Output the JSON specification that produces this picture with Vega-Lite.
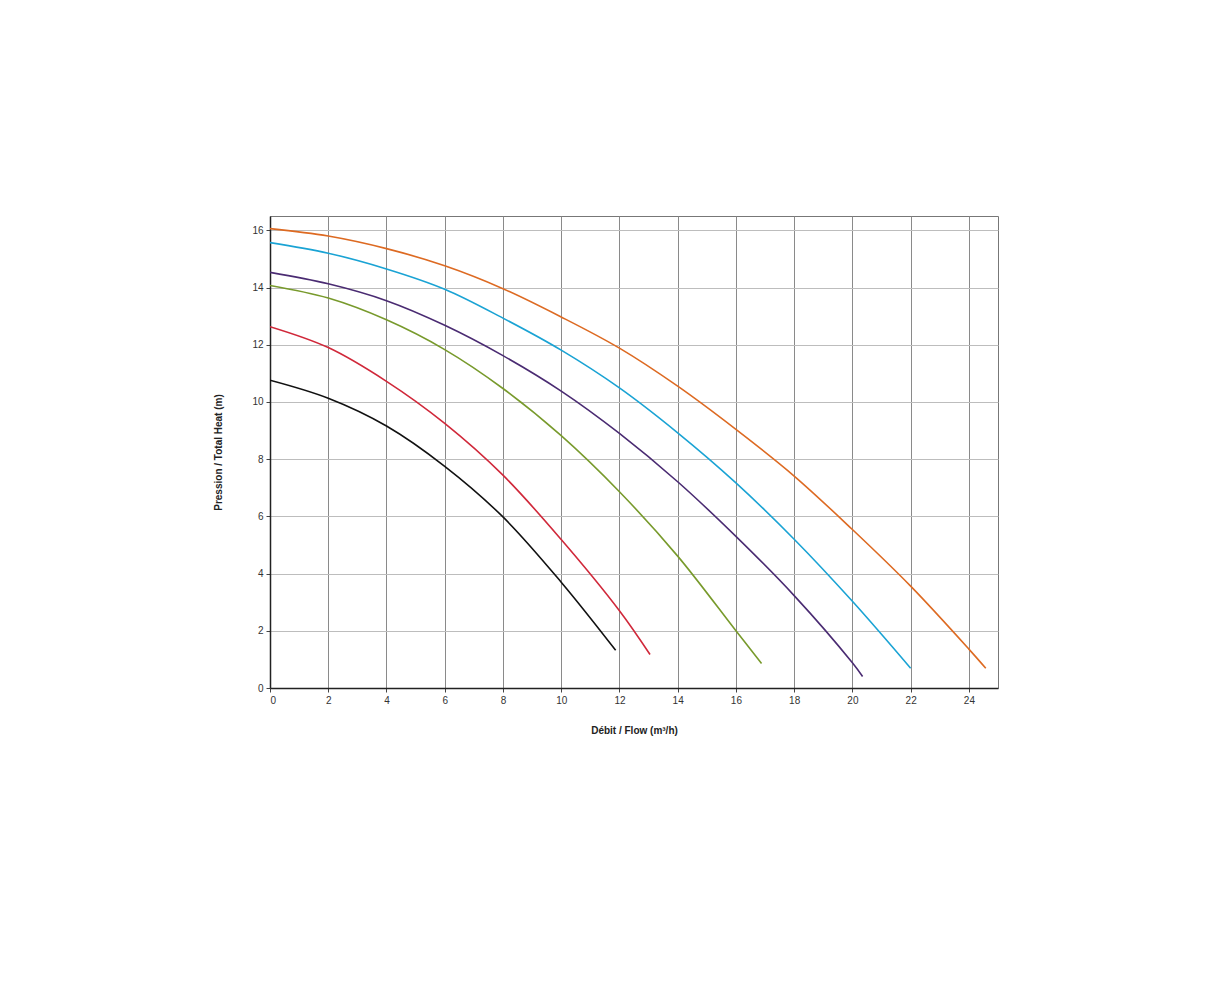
{
  "$schema": "https://vega.github.io/schema/vega-lite/v6.json",
  "autosize": "none",
  "padding": {"left": 270, "top": 216, "right": 232, "bottom": 296},
  "width": 728,
  "height": 472,
  "background": "white",
  "config": {
    "view": {"stroke": "#777", "strokeWidth": 1},
    "font": "Liberation Sans"
  },
  "data": {
    "values": [
      {"s": "A", "q": 0, "h": 10.76}, {"s": "A", "q": 2, "h": 10.13}, {"s": "A", "q": 4, "h": 9.16}, {"s": "A", "q": 6, "h": 7.75}, {"s": "A", "q": 8, "h": 5.98}, {"s": "A", "q": 10, "h": 3.7}, {"s": "A", "q": 11.87, "h": 1.32},
      {"s": "B", "q": 0, "h": 12.63}, {"s": "B", "q": 2, "h": 11.9}, {"s": "B", "q": 4, "h": 10.72}, {"s": "B", "q": 6, "h": 9.25}, {"s": "B", "q": 8, "h": 7.44}, {"s": "B", "q": 10, "h": 5.19}, {"s": "B", "q": 12, "h": 2.7}, {"s": "B", "q": 13.05, "h": 1.17},
      {"s": "C", "q": 0, "h": 14.07}, {"s": "C", "q": 2, "h": 13.63}, {"s": "C", "q": 4, "h": 12.87}, {"s": "C", "q": 6, "h": 11.83}, {"s": "C", "q": 8, "h": 10.47}, {"s": "C", "q": 10, "h": 8.82}, {"s": "C", "q": 12, "h": 6.86}, {"s": "C", "q": 14, "h": 4.61}, {"s": "C", "q": 16, "h": 2.0}, {"s": "C", "q": 16.88, "h": 0.86},
      {"s": "D", "q": 0, "h": 14.53}, {"s": "D", "q": 2, "h": 14.13}, {"s": "D", "q": 4, "h": 13.54}, {"s": "D", "q": 6, "h": 12.68}, {"s": "D", "q": 8, "h": 11.62}, {"s": "D", "q": 10, "h": 10.38}, {"s": "D", "q": 12, "h": 8.9}, {"s": "D", "q": 14, "h": 7.21}, {"s": "D", "q": 16, "h": 5.3}, {"s": "D", "q": 18, "h": 3.23}, {"s": "D", "q": 20, "h": 0.88}, {"s": "D", "q": 20.35, "h": 0.4},
      {"s": "E", "q": 0, "h": 15.57}, {"s": "E", "q": 2, "h": 15.2}, {"s": "E", "q": 4, "h": 14.65}, {"s": "E", "q": 6, "h": 13.94}, {"s": "E", "q": 8, "h": 12.93}, {"s": "E", "q": 10, "h": 11.81}, {"s": "E", "q": 12, "h": 10.49}, {"s": "E", "q": 14, "h": 8.92}, {"s": "E", "q": 16, "h": 7.17}, {"s": "E", "q": 18, "h": 5.2}, {"s": "E", "q": 20, "h": 3.03}, {"s": "E", "q": 22, "h": 0.69},
      {"s": "F", "q": 0, "h": 16.06}, {"s": "F", "q": 2, "h": 15.8}, {"s": "F", "q": 4, "h": 15.36}, {"s": "F", "q": 6, "h": 14.76}, {"s": "F", "q": 8, "h": 13.96}, {"s": "F", "q": 10, "h": 12.97}, {"s": "F", "q": 12, "h": 11.88}, {"s": "F", "q": 14, "h": 10.55}, {"s": "F", "q": 16, "h": 9.04}, {"s": "F", "q": 18, "h": 7.41}, {"s": "F", "q": 20, "h": 5.54}, {"s": "F", "q": 22, "h": 3.56}, {"s": "F", "q": 24, "h": 1.36}, {"s": "F", "q": 24.58, "h": 0.69}
    ]
  },
  "mark": {"type": "line", "interpolate": "catmull-rom", "strokeWidth": 1.6, "clip": true},
  "encoding": {
    "x": {
      "field": "q", "type": "quantitative",
      "scale": {"domain": [0, 25], "nice": false, "zero": true},
      "axis": {
        "title": "Débit / Flow (m³/h)",
        "values": [0, 2, 4, 6, 8, 10, 12, 14, 16, 18, 20, 22, 24],
        "grid": true, "gridColor": "#8a8a8a", "gridWidth": 1,
        "domainColor": "#222", "domainWidth": 1.5,
        "tickColor": "#444", "tickSize": 4,
        "labelFontSize": 10, "labelColor": "#333", "labelPadding": 3,
        "titleFontSize": 10, "titleFontWeight": "bold", "titleColor": "#222", "titlePadding": 20
      }
    },
    "y": {
      "field": "h", "type": "quantitative",
      "scale": {"domain": [0, 16.5], "nice": false, "zero": true},
      "axis": {
        "title": "Pression / Total Heat (m)",
        "values": [0, 2, 4, 6, 8, 10, 12, 14, 16],
        "grid": true, "gridColor": "#bdbdbd", "gridWidth": 1,
        "domainColor": "#222", "domainWidth": 1.5,
        "tickColor": "#444", "tickSize": 4,
        "labelFontSize": 10, "labelColor": "#333", "labelPadding": 3,
        "titleFontSize": 10, "titleFontWeight": "bold", "titleColor": "#222", "titlePadding": 28
      }
    },
    "color": {
      "field": "s", "type": "nominal",
      "scale": {"domain": ["A", "B", "C", "D", "E", "F"], "range": ["#111111", "#d0283a", "#789a2c", "#4a2b72", "#1aa3d4", "#dd6a22"]},
      "legend": null
    }
  }
}
